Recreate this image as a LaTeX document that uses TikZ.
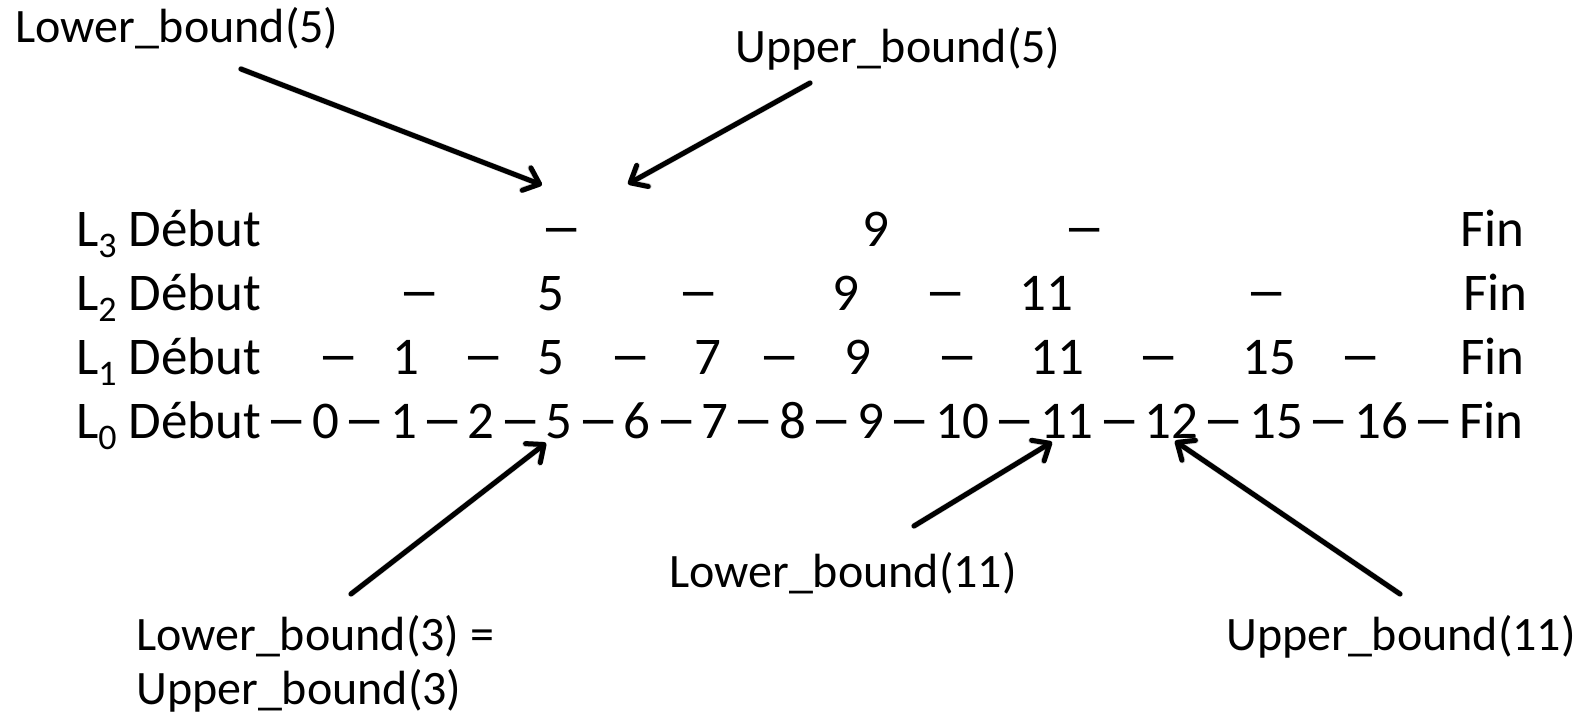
\documentclass[tikz,border=0pt]{standalone}
\usepackage{graphicx}
\usepackage{fontspec}
\setmainfont{Carlito}
\usetikzlibrary{arrows.meta}
\newcommand\Lsub[1]{\raisebox{-0.22em}{\fontsize{36}{36}\selectfont #1}}
\newcommand\dsh{\scalebox{1.6}[1.1]{–}}
\begin{document}
\begin{tikzpicture}[x=1pt,y=-1pt,
  main/.style={inner sep=0pt, anchor=base, font=\fontsize{53}{64}\selectfont},
  ann/.style={inner sep=0pt, anchor=base west, font=\fontsize{48}{58}\selectfont},
  arr/.style={line width=5pt, line cap=round, -{Straight Barb[length=14pt,width=24pt,line cap=round,line join=round]}},
  shade/.style={arr, draw=black!18, line width=6pt, shift={(2pt,-3pt)}}]
\useasboundingbox (0,0) rectangle (1593,717);

% Row L3
\node[main,anchor=base west] (L3) at (76,246) {L\Lsub{3} Début};
\node[main] (l3a) at (562,246) {\dsh};
\node[main] (l3b) at (876,246) {9};
\node[main] (l3c) at (1085,246) {\dsh};
\node[main,anchor=base west] (l3fin) at (1460,246) {Fin};

% Row L2
\node[main,anchor=base west] (L2) at (76,310) {L\Lsub{2} Début};
\node[main] (l2a) at (420,310) {\dsh};
\node[main] (l2b) at (551,310) {5};
\node[main] (l2c) at (699,310) {\dsh};
\node[main] (l2d) at (846,310) {9};
\node[main] (l2e) at (946,310) {\dsh};
\node[main] (l2f) at (1046,310) {11};
\node[main] (l2g) at (1267,310) {\dsh};
\node[main,anchor=base west] (l2fin) at (1463,310) {Fin};

% Row L1
\node[main,anchor=base west] (L1) at (76,374) {L\Lsub{1} Début};
\node[main] (l1a) at (339,374) {\dsh};
\node[main] (l1b) at (406,374) {1};
\node[main] (l1c) at (484,374) {\dsh};
\node[main] (l1d) at (551,374) {5};
\node[main] (l1e) at (631,374) {\dsh};
\node[main] (l1f) at (708,374) {7};
\node[main] (l1g) at (780,374) {\dsh};
\node[main] (l1h) at (858,374) {9};
\node[main] (l1i) at (958,374) {\dsh};
\node[main] (l1j) at (1057,374) {11};
\node[main] (l1k) at (1159,374) {\dsh};
\node[main] (l1l) at (1269,374) {15};
\node[main] (l1m) at (1361,374) {\dsh};
\node[main,anchor=base west] (l1fin) at (1460,374) {Fin};

% Row L0
\node[main,anchor=base west] (nstart) at (76,438) {L\Lsub{0} Début};
\foreach \v [count=\i, remember=\v as \lastv (initially start)] in {0,1,2,5,6,7,8,9,10,11,12,15,16,Fin}{
  \node[main,anchor=base west] (d\i) at (n\lastv.base east) {\hspace*{4pt}\dsh\hspace*{4pt}\mbox{}};
  \node[main,anchor=base west] (n\v) at (d\i.base east) {\v};
}

% Annotations
\node[ann] (lb5) at (15,43) {Lower\_bound(5)};
\node[ann] (ub5) at (735,63) {Upper\_bound(5)};
\node[ann] (lb11) at (669,587) {Lower\_bound(11)};
\node[ann] (lb3) at (136,650) {Lower\_bound(3) =};
\node[ann] (ub3) at (136,704) {Upper\_bound(3)};
\node[ann] (ub11) at (1226,650) {Upper\_bound(11)};

% Arrow ends
\coordinate (a1s) at (241,69);   \coordinate (a1e) at (542,185);
\coordinate (a2s) at (810,83);   \coordinate (a2e) at (628,184);
\coordinate (a3s) at (351,594);  \coordinate (a3e) at (546,443);
\coordinate (a4s) at (914,526);  \coordinate (a4e) at (1052,442);
\coordinate (a5s) at (1400,594); \coordinate (a5e) at (1175,441);

\foreach \k in {1,...,5}{\draw[shade] (a\k s) -- (a\k e);}
\foreach \k in {1,...,5}{\draw[arr] (a\k s) -- (a\k e);}
\end{tikzpicture}
\end{document}
